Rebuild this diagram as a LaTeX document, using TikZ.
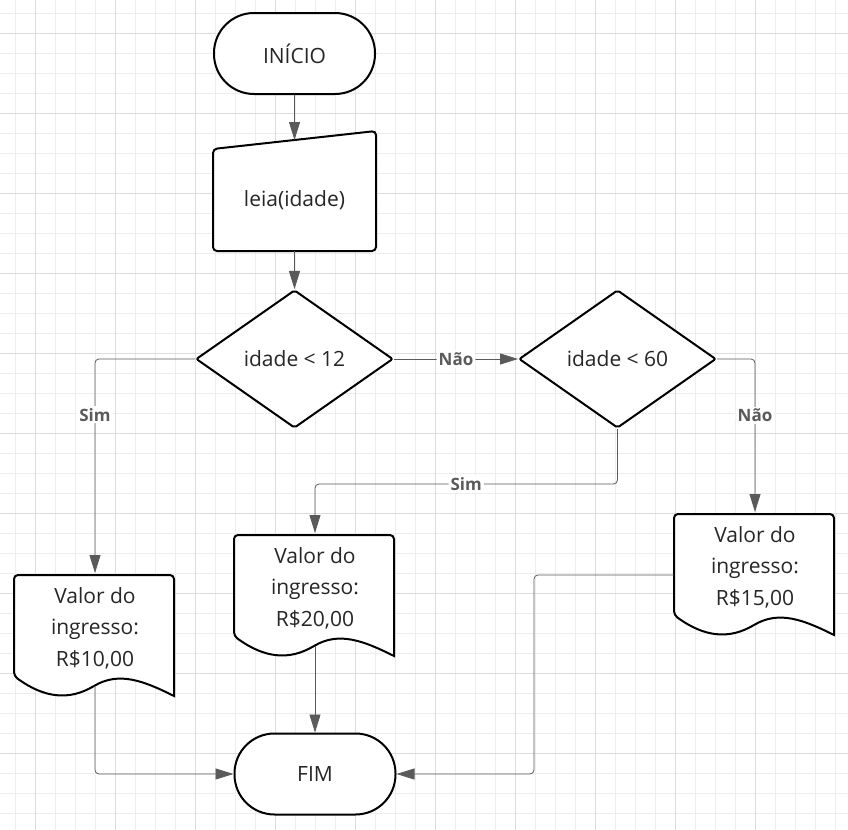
\documentclass[tikz,border=0pt]{standalone}
\usepackage{fontspec}
\setmainfont{Open Sans}
\usetikzlibrary{positioning,arrows.meta,shapes.geometric,backgrounds}
\definecolor{linkgray}{HTML}{5A5A5A}
\definecolor{textgray}{HTML}{262626}
\definecolor{gridminor}{HTML}{EDEDED}
\definecolor{griddark}{HTML}{DCDCDC}

\begin{document}
\begin{tikzpicture}[
  x=0.5pt, y=-0.5pt,
  >={Triangle[length=9pt,width=5.5pt]},
  font=\fontsize{10.5}{15.75}\selectfont,
  text=textgray,
  line width=1pt,
  term/.style={
     draw,
     fill=white,
     rounded corners=20pt,
     minimum width=80.5pt,
     minimum height=40.5pt
  },
  inbox/.style={
     minimum width=80.5pt,
     minimum height=54.5pt,
     text height=13pt
  },
  decision/.style={
     diamond,
     draw,
     fill=white,
     rounded corners=1pt,
     inner sep=0pt,
     minimum width=98.5pt,
     minimum height=69pt
  },
  docbox/.style={
     minimum width=80pt,
     minimum height=54pt,
     align=center
  },
  %background layer does not see the picture's line width
  outline/.style={draw=black, fill=white, line width=1pt},
  link/.style={->, draw=linkgray, rounded corners=2pt},
  answer/.style={
     fill=white,
     text=linkgray,
     inner sep=1pt,
     font=\fontsize{8.5}{10}\selectfont\bfseries
  }
]
\useasboundingbox (0,0) rectangle (848,830);

\node[term] (inicio) at (294.5,53.5) {INÍCIO};
\node[inbox, below=22.5pt of inicio] (leia) {leia(idade)};

\node[decision, below=19pt of leia]      (idade12) {idade < 12};
\node[decision, right=62pt of idade12]   (idade60) {idade < 60};

\node[docbox] (preco10) at (95,628)  {Valor do\\ingresso:\\R\$10,00};
\node[docbox] (preco20) at (315,588) {Valor do\\ingresso:\\R\$20,00};
\node[docbox] (preco15) at (755,567) {Valor do\\ingresso:\\R\$15,00};

\node[term] (fim) at (315,774) {FIM};

% grid and hand drawn shapes go behind the texts
\begin{pgfonlayer}{background}
  \fill[white] (0,0) rectangle (848,830);
  \foreach \gx in {15,35,...,835}
    \draw[gridminor, line width=0.5pt] (\gx,0) -- (\gx,830);
  \foreach \gy in {13,33,...,813}
    \draw[gridminor, line width=0.5pt] (0,\gy) -- (848,\gy);
  \foreach \gx in {35,115,...,755}
    \draw[griddark, line width=0.5pt] (\gx,0) -- (\gx,830);
  \foreach \gy in {33,113,...,753}
    \draw[griddark, line width=0.5pt] (0,\gy) -- (848,\gy);

  \draw[outline, rounded corners=2pt]
     (leia.south west) -- ([yshift=-4.5pt]leia.north west)
     -- ([yshift=4.5pt]leia.north east) -- (leia.south east) -- cycle;

  \foreach \doc in {preco10,preco20,preco15}
    \draw[outline, shift={(\doc.south west)}]
       (0,-7) .. controls (30,15) and (55,18) .. (80,3)
       .. controls (105,-12) and (130,-2) .. (160,13)
       [rounded corners=2pt] -- (160,-108) -- (0,-108) -- cycle;
\end{pgfonlayer}

\draw[link] (inicio) -- (leia);
\draw[link] (leia) -- (idade12);

\draw[link] (idade12) -- node[answer] {Não} (idade60);
\draw[link] (idade12.west) -| node[answer, pos=0.63] {Sim} (preco10.north);
\draw[link] (idade60.east) -| node[answer, pos=0.685] {Não} (preco15.north);
\draw[link] (idade60.south) -- ++(0,55) -| node[answer, pos=0.25] {Sim} (preco20.north);

\draw[link] ([yshift=-1.5pt]preco10.south) |- (fim.west);
\draw[link] ([yshift=-1.5pt]preco20.south) -- (fim.north);
\draw[link] ([yshift=-4pt]preco15.west) -- ++(-140,0) |- (fim.east);

\end{tikzpicture}
\end{document}
